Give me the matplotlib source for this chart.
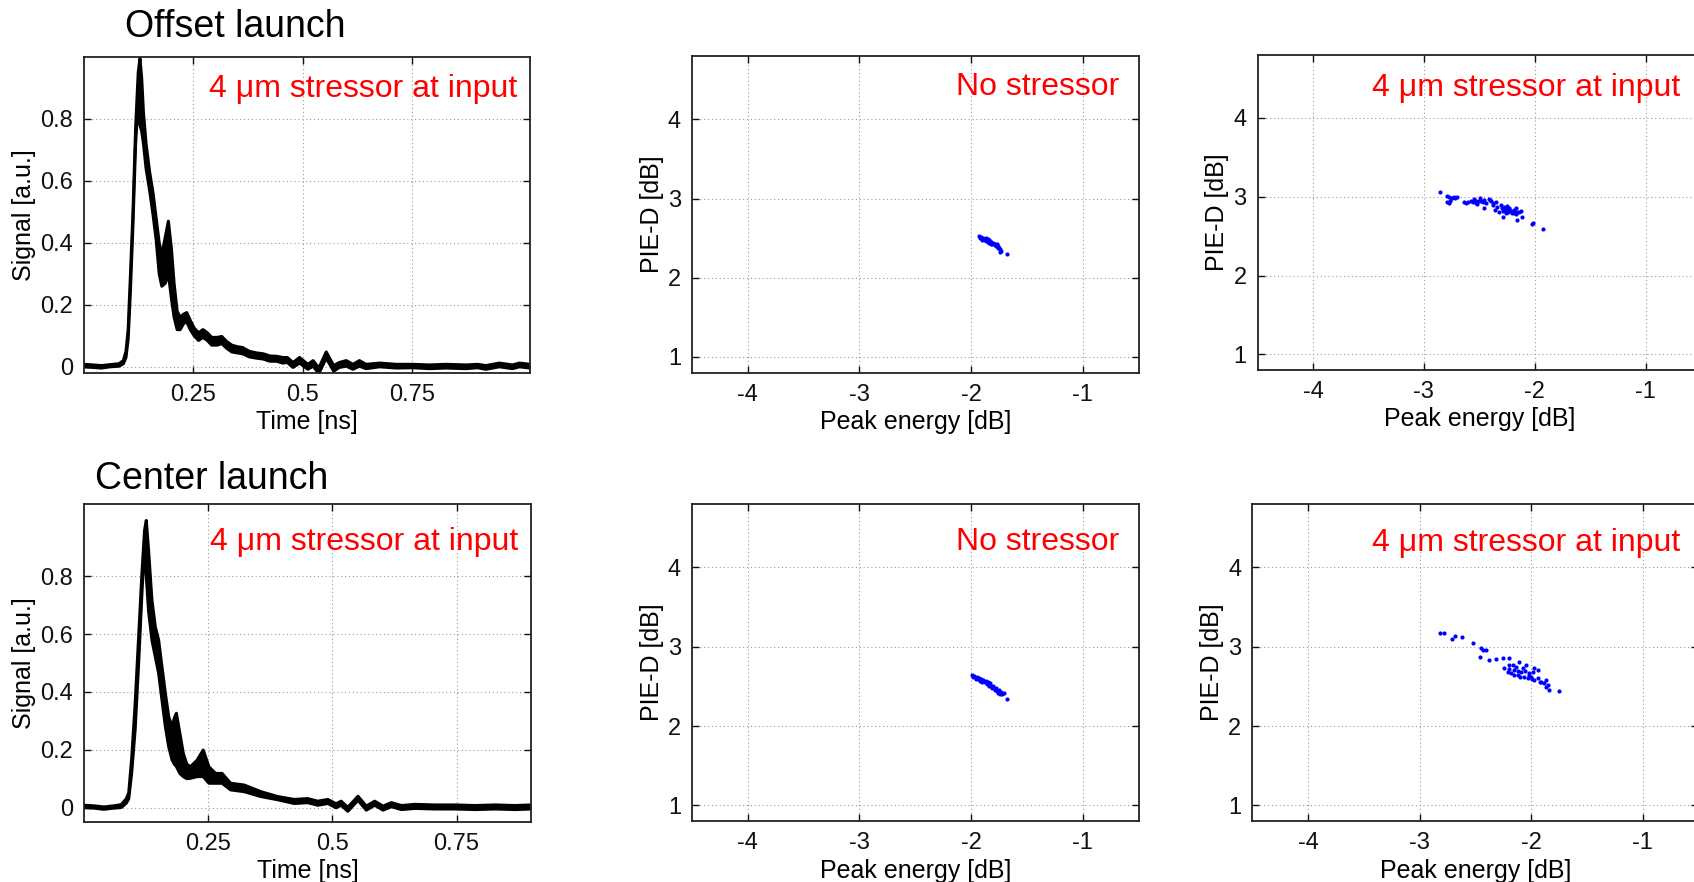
import matplotlib
matplotlib.use("Agg")
import matplotlib.pyplot as plt

plt.rcParams['font.family'] = ['Liberation Sans', 'DejaVu Sans']

W, H = 1694, 882

# ---- time traces (band envelopes) ----
offset_t = [0.0, 0.02, 0.04, 0.06, 0.08, 0.09, 0.096, 0.101, 0.106, 0.112, 0.118, 0.124,
            0.128, 0.132, 0.136, 0.142, 0.150, 0.158, 0.165, 0.172, 0.178, 0.186, 0.193,
            0.2, 0.206, 0.213, 0.22, 0.228, 0.235, 0.243, 0.252, 0.262, 0.272, 0.282,
            0.292, 0.305, 0.315, 0.326, 0.338, 0.35, 0.363, 0.378, 0.394, 0.41, 0.425,
            0.44, 0.455, 0.465, 0.478, 0.493, 0.512, 0.524, 0.537, 0.554, 0.571, 0.584,
            0.6, 0.615, 0.63, 0.645, 0.676, 0.714, 0.752, 0.79, 0.828, 0.874, 0.9, 0.919,
            0.95, 0.98, 0.996, 1.02]
offset_lo = [0.0, -0.002, -0.004, 0.0, 0.002, 0.01, 0.03, 0.09, 0.24, 0.46, 0.72, 0.86,
             0.78, 0.76, 0.72, 0.64, 0.57, 0.49, 0.41, 0.30, 0.26, 0.27, 0.30,
             0.22, 0.16, 0.12, 0.12, 0.14, 0.145, 0.12, 0.10, 0.085, 0.095, 0.085,
             0.07, 0.07, 0.075, 0.06, 0.048, 0.045, 0.042, 0.032, 0.028, 0.025, 0.018,
             0.018, 0.012, 0.014, -0.002, 0.012, -0.008, 0.002, -0.022, 0.028, -0.014, -0.002,
             0.002, -0.008, 0.002, -0.006, 0.0, -0.004, -0.003, -0.006, -0.004, -0.006, -0.003, -0.008,
             0.0, -0.006, 0.0, -0.004]
offset_hi = [0.008, 0.006, 0.004, 0.007, 0.01, 0.02, 0.05, 0.12, 0.29, 0.50, 0.77, 0.95,
             0.995, 0.93, 0.82, 0.72, 0.63, 0.56, 0.48, 0.40, 0.36, 0.42, 0.47,
             0.38, 0.27, 0.18, 0.16, 0.17, 0.175, 0.15, 0.125, 0.11, 0.12, 0.11,
             0.095, 0.095, 0.098, 0.082, 0.07, 0.065, 0.062, 0.05, 0.045, 0.042, 0.035,
             0.034, 0.03, 0.03, 0.014, 0.03, 0.008, 0.02, -0.004, 0.048, 0.004, 0.014,
             0.02, 0.008, 0.02, 0.008, 0.012, 0.008, 0.008, 0.006, 0.008, 0.006, 0.008, 0.004,
             0.012, 0.006, 0.012, 0.008]

center_t = [0.0, 0.02, 0.04, 0.06, 0.075, 0.085, 0.09, 0.096, 0.103, 0.11, 0.1166, 0.122,
            0.1254, 0.13, 0.1368, 0.1436, 0.1503, 0.157, 0.1638, 0.1706, 0.1773, 0.182,
            0.186, 0.193, 0.2, 0.207, 0.214, 0.2278, 0.24, 0.2515, 0.265, 0.278, 0.2953,
            0.3223, 0.356, 0.39, 0.4234, 0.45, 0.4707, 0.491, 0.5076, 0.5177, 0.5312,
            0.5516, 0.5684, 0.5853, 0.6021, 0.619, 0.6392, 0.6662, 0.7066, 0.7471, 0.7875,
            0.828, 0.8685, 0.9]
center_lo = [0.0, -0.002, -0.006, -0.002, 0.0, 0.015, 0.03, 0.12, 0.27, 0.50, 0.74, 0.91,
             0.80, 0.68, 0.579, 0.521, 0.464, 0.372, 0.28, 0.21, 0.165, 0.15,
             0.142, 0.118, 0.107, 0.10, 0.101, 0.107, 0.107, 0.084, 0.084, 0.084, 0.061,
             0.055, 0.038, 0.027, 0.014, 0.017, 0.008, 0.014, -0.001, 0.008, -0.013,
             0.025, -0.009, 0.008, -0.009, 0.003, -0.007, -0.003, -0.005, -0.005, -0.007,
             -0.005, -0.007, -0.005]
center_hi = [0.008, 0.006, 0.002, 0.006, 0.01, 0.03, 0.05, 0.17, 0.36, 0.59, 0.81, 0.96,
             0.993, 0.89, 0.717, 0.625, 0.579, 0.487, 0.395, 0.314, 0.28, 0.31,
             0.326, 0.257, 0.187, 0.15, 0.141, 0.164, 0.199, 0.141, 0.118, 0.118, 0.084,
             0.078, 0.055, 0.038, 0.028, 0.031, 0.022, 0.028, 0.013, 0.022, 0.001,
             0.039, 0.005, 0.022, 0.005, 0.017, 0.007, 0.011, 0.009, 0.009, 0.007,
             0.009, 0.007, 0.009]

# ---- scatter data: peak energy [dB], PIE-D [dB] ----
off_none_x = [-1.93, -1.92, -1.91, -1.90, -1.89, -1.88, -1.87, -1.87, -1.86, -1.85, -1.85, -1.84,
              -1.84, -1.83, -1.82, -1.82, -1.81, -1.80, -1.79, -1.79, -1.78, -1.77, -1.76, -1.76,
              -1.75, -1.74, -1.74, -1.73, -1.68]
off_none_y = [2.53, 2.50, 2.51, 2.48, 2.50, 2.48, 2.46, 2.50, 2.47, 2.45, 2.49, 2.44,
              2.47, 2.46, 2.43, 2.45, 2.42, 2.44, 2.41, 2.43, 2.40, 2.42, 2.38, 2.40,
              2.37, 2.36, 2.33, 2.34, 2.30]

off_4um_x = [-2.857, -2.788, -2.758, -2.728, -2.698, -2.773, -2.788, -2.743, -2.76, -2.72, -2.77,
             -2.638, -2.623, -2.60, -2.578, -2.548, -2.532, -2.517, -2.493, -2.481, -2.457, -2.442,
             -2.457, -2.53, -2.50, -2.56, -2.47, -2.412, -2.391, -2.373, -2.352, -2.337, -2.361,
             -2.40, -2.38, -2.307, -2.292, -2.277, -2.262, -2.247, -2.241, -2.232, -2.217, -2.202,
             -2.283, -2.322, -2.26, -2.25, -2.23, -2.27, -2.29, -2.187, -2.171, -2.156, -2.141,
             -2.126, -2.156, -2.117, -2.19, -2.17, -2.027, -2.015, -1.925]
off_4um_y = [3.058, 3.015, 2.99, 3.003, 2.998, 2.918, 2.939, 2.981, 2.95, 2.985, 3.0,
             2.939, 2.918, 2.93, 2.947, 2.973, 2.947, 2.905, 2.981, 2.947, 2.96, 2.918,
             2.854, 2.92, 2.95, 2.93, 2.93, 2.973, 2.947, 2.897, 2.93, 2.875, 2.833,
             2.96, 2.92, 2.897, 2.854, 2.875, 2.833, 2.863, 2.812, 2.854, 2.82, 2.79,
             2.748, 2.812, 2.80, 2.88, 2.84, 2.85, 2.82, 2.833, 2.854, 2.803, 2.812,
             2.82, 2.701, 2.748, 2.80, 2.78, 2.655, 2.663, 2.587]

cen_none_x = [-1.99, -1.98, -1.97, -1.96, -1.95, -1.94, -1.93, -1.92, -1.91, -1.90, -1.89, -1.88,
              -1.87, -1.86, -1.85, -1.84, -1.83, -1.82, -1.81, -1.80, -1.79, -1.78, -1.77, -1.76,
              -1.75, -1.74, -1.73, -1.72, -1.71, -1.68]
cen_none_y = [2.64, 2.62, 2.63, 2.60, 2.62, 2.59, 2.61, 2.57, 2.60, 2.56, 2.58, 2.55,
              2.57, 2.53, 2.55, 2.51, 2.54, 2.50, 2.48, 2.51, 2.46, 2.48, 2.44, 2.42,
              2.45, 2.41, 2.43, 2.40, 2.42, 2.34]

cen_4um_x = [-2.813, -2.777, -2.711, -2.682, -2.619, -2.517, -2.448, -2.433, -2.403, -2.454,
             -2.374, -2.314, -2.254, -2.194, -2.239, -2.209, -2.179, -2.149, -2.12, -2.09,
             -2.06, -2.03, -2.0, -1.97, -1.94, -1.91, -1.88, -2.164, -2.134, -2.105, -2.075,
             -2.015, -1.985, -2.194, -2.045, -1.97, -1.94, -1.865, -1.85, -1.841, -1.865, -1.746,
             -2.2, -2.1, -2.05, -2.15, -1.99, -1.92, -2.12, -2.02]
cen_4um_y = [3.168, 3.168, 3.096, 3.134, 3.126, 3.042, 2.979, 2.958, 2.958, 2.873,
             2.832, 2.84, 2.853, 2.853, 2.727, 2.684, 2.664, 2.706, 2.642, 2.684,
             2.621, 2.601, 2.621, 2.58, 2.601, 2.558, 2.538, 2.769, 2.747, 2.811, 2.727,
             2.664, 2.684, 2.769, 2.769, 2.727, 2.706, 2.58, 2.517, 2.454, 2.495, 2.446,
             2.72, 2.62, 2.70, 2.64, 2.60, 2.56, 2.70, 2.64]

annot_4um = "4 \u03bcm stressor at input"
annot_none = "No stressor"


def px_axes(fig, left, top, right, bottom):
    return fig.add_axes([left / W, (H - bottom) / H, (right - left) / W, (bottom - top) / H])


def style_axes(ax):
    for sp in ax.spines.values():
        sp.set_linewidth(1.3)
        sp.set_color("#222222")
    ax.tick_params(direction="in", length=5, width=1, top=True, right=True,
                   labelsize=17, pad=8, colors="#111111")
    ax.grid(True, linestyle=(0, (1, 2.5)), color="#9a9a9a", linewidth=0.8)
    ax.set_axisbelow(True)


def draw_trace(ax, t, lo, hi, xmax, ylim):
    ax.fill_between(t, lo, hi, color="black", linewidth=0)
    ax.plot(t, lo, color="black", linewidth=2.2)
    ax.plot(t, hi, color="black", linewidth=2.2)
    ax.set_xlim(0, xmax)
    ax.set_ylim(*ylim)
    ax.set_xticks([0.25, 0.5, 0.75])
    ax.set_xticklabels(["0.25", "0.5", "0.75"])
    ax.set_yticks([0, 0.2, 0.4, 0.6, 0.8])
    ax.set_yticklabels(["0", "0.2", "0.4", "0.6", "0.8"])
    ax.set_xlabel("Time [ns]", fontsize=18, labelpad=3)
    ax.set_ylabel("Signal [a.u.]", fontsize=18, labelpad=3)
    style_axes(ax)


def draw_scatter(ax, x, y):
    ax.scatter(x, y, s=9, color="#0000ff", linewidths=0, zorder=3)
    ax.set_xlim(-4.5, -0.5)
    ax.set_ylim(0.8, 4.8)
    ax.set_xticks([-4, -3, -2, -1])
    ax.set_xticklabels(["-4", "-3", "-2", "-1"])
    ax.set_yticks([1, 2, 3, 4])
    ax.set_xlabel("Peak energy [dB]", fontsize=18, labelpad=3)
    ax.set_ylabel("PIE-D [dB]", fontsize=18, labelpad=3)
    style_axes(ax)


def red_text(ax, text, x, y):
    ax.text(x, y, text, transform=ax.transAxes, ha="right", va="baseline",
            color="#ff0000", fontsize=23)


fig = plt.figure(figsize=(W / 100, H / 100), dpi=100)

ax_tl = px_axes(fig, 84, 57, 530, 373)
draw_trace(ax_tl, offset_t, offset_lo, offset_hi, 1.02, (-0.02, 1.0))
red_text(ax_tl, annot_4um, 0.971, 0.873)

ax_bl = px_axes(fig, 84, 504, 531, 822)
draw_trace(ax_bl, center_t, center_lo, center_hi, 0.9, (-0.05, 1.05))
red_text(ax_bl, annot_4um, 0.971, 0.855)

ax_tm = px_axes(fig, 692, 56, 1138.6, 372.7)
draw_scatter(ax_tm, off_none_x, off_none_y)
red_text(ax_tm, annot_none, 0.957, 0.877)

ax_tr = px_axes(fig, 1257.7, 55, 1700.9, 370)
draw_scatter(ax_tr, off_4um_x, off_4um_y)
red_text(ax_tr, annot_4um, 0.953, 0.87)

ax_bm = px_axes(fig, 692, 504, 1138.6, 821.3)
draw_scatter(ax_bm, cen_none_x, cen_none_y)
red_text(ax_bm, annot_none, 0.957, 0.855)

ax_br = px_axes(fig, 1252.3, 504, 1698.3, 821.3)
draw_scatter(ax_br, cen_4um_x, cen_4um_y)
red_text(ax_br, annot_4um, 0.959, 0.852)

fig.text(125 / W, 1 - 37 / H, "Offset launch", fontsize=27, va="baseline", ha="left")
fig.text(95 / W, 1 - 489 / H, "Center launch", fontsize=27, va="baseline", ha="left")

fig.savefig("out.png", dpi=100, facecolor="white")
